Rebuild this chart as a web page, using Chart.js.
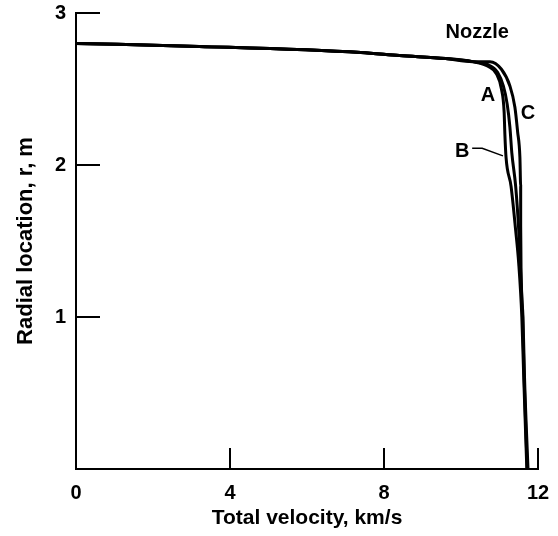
<!DOCTYPE html>
<html><head><meta charset="utf-8">
<script src="https://cdn.jsdelivr.net/npm/chart.js@4.4.0/dist/chart.umd.min.js"></script>
<style>html,body{margin:0;padding:0;background:#fff;}canvas{display:block;}</style>
</head><body>
<canvas id="c" width="558" height="536"></canvas>
<script>
// Tick labels
const xTicks = [0, 4, 8, 12];
const yTicks = [0, 1, 2, 3];
// Series (total velocity km/s, radial location m)
const velA = [0, 3.2, 7.4, 8.4, 9.6, 10.3, 10.7, 10.95, 11.1, 11.2, 11.27, 11.32, 11.42, 11.5, 11.55, 11.6, 11.64, 11.72];
const radA = [2.80, 2.78, 2.74, 2.72, 2.70, 2.68, 2.66, 2.61, 2.52, 2.40, 2.25, 2.08, 1.86, 1.57, 1.30, 1.00, 0.60, 0];
const velB = [0, 3.2, 7.4, 8.4, 9.6, 10.3, 10.7, 10.92, 11.05, 11.12, 11.14, 11.17, 11.3, 11.42, 11.5, 11.58, 11.63, 11.71];
const radB = [2.80, 2.78, 2.74, 2.72, 2.70, 2.68, 2.65, 2.60, 2.50, 2.35, 2.20, 2.05, 1.86, 1.57, 1.35, 1.00, 0.60, 0];
const velC = [0, 3.2, 7.4, 8.4, 9.6, 10.3, 10.75, 11.05, 11.27, 11.4, 11.47, 11.53, 11.55, 11.55, 11.56, 11.61, 11.65, 11.74];
const radC = [2.80, 2.78, 2.74, 2.72, 2.70, 2.68, 2.68, 2.63, 2.52, 2.38, 2.22, 2.05, 1.86, 1.60, 1.30, 1.00, 0.60, 0];
const seriesNames = ['A', 'B', 'C'];

const toPts = (xs, ys) => xs.map((x, i) => ({x: x, y: ys[i]}));
const FONT = '"Liberation Sans", Arial, Helvetica, sans-serif';

// label anchors (data coords)
const notes = [
  {text: 'Nozzle', x: 10.42, y: 2.87},
  {text: 'A', x: 10.7, y: 2.46},
  {text: 'C', x: 11.74, y: 2.34},
  {text: 'B', x: 10.03, y: 2.09}
];
const leader = [[10.29, 2.11], [10.55, 2.11], [11.09, 2.06]];

const decor = {
  id: 'decor',
  afterDatasetsDraw(chart) {
    const {ctx, scales: {x, y}} = chart;
    ctx.save();
    ctx.strokeStyle = '#000';
    ctx.lineWidth = 2;
    ctx.beginPath();
    yTicks.filter(v => v > 0).forEach(v => {
      const py = y.getPixelForValue(v);
      ctx.moveTo(x.getPixelForValue(0), py);
      ctx.lineTo(x.getPixelForValue(0) + 24, py);
    });
    xTicks.filter(v => v > 0).forEach(v => {
      const px = x.getPixelForValue(v);
      ctx.moveTo(px, y.getPixelForValue(0));
      ctx.lineTo(px, y.getPixelForValue(0) - 21);
    });
    ctx.stroke();
    ctx.lineWidth = 1.5;
    ctx.beginPath();
    leader.forEach((p, i) => {
      const px = x.getPixelForValue(p[0]), py = y.getPixelForValue(p[1]);
      if (i === 0) ctx.moveTo(px, py); else ctx.lineTo(px, py);
    });
    ctx.stroke();
    ctx.fillStyle = '#000';
    ctx.font = 'bold 20px ' + FONT;
    ctx.textAlign = 'center';
    ctx.textBaseline = 'middle';
    notes.forEach(n => ctx.fillText(n.text, x.getPixelForValue(n.x), y.getPixelForValue(n.y)));
    ctx.restore();
  }
};

const ds = [toPts(velA, radA), toPts(velB, radB), toPts(velC, radC)].map((d, i) => ({
  label: seriesNames[i],
  data: d,
  borderColor: '#000',
  borderWidth: 3,
  pointRadius: 0,
  fill: false,
  cubicInterpolationMode: 'monotone'
}));

new Chart(document.getElementById('c'), {
  type: 'line',
  data: {datasets: ds},
  plugins: [decor],
  options: {
    responsive: false,
    animation: false,
    layout: {padding: {left: 0, top: 13, right: 20, bottom: 0}},
    plugins: {legend: {display: false}, tooltip: {enabled: false}},
    scales: {
      x: {
        type: 'linear', min: 0, max: 12,
        afterBuildTicks: s => { s.ticks = xTicks.map(v => ({value: v})); },
        afterFit: s => { s.height = 67; s.paddingLeft = 0; s.paddingRight = 0; },
        grid: {display: false, drawTicks: false},
        border: {display: true, color: '#000', width: 2},
        ticks: {color: '#000', padding: 12, maxRotation: 0, font: {family: FONT, size: 20, weight: 'bold'}},
        title: {display: true, text: 'Total velocity, km/s', color: '#000', padding: {top: 0, bottom: 5}, font: {family: FONT, size: 21, weight: 'bold'}}
      },
      y: {
        type: 'linear', min: 0, max: 3,
        afterBuildTicks: s => { s.ticks = yTicks.map(v => ({value: v})); },
        afterFit: s => { s.width = 76; s.paddingTop = 0; s.paddingBottom = 0; },
        grid: {display: false, drawTicks: false},
        border: {display: true, color: '#000', width: 2},
        ticks: {color: '#000', padding: 10, font: {family: FONT, size: 20, weight: 'bold'}, callback: v => v === 0 ? '' : String(v)},
        title: {display: true, text: 'Radial location, r, m', color: '#000', padding: {top: 13, bottom: 0}, font: {family: FONT, size: 22, weight: 'bold'}}
      }
    }
  }
});
</script>
</body></html>
